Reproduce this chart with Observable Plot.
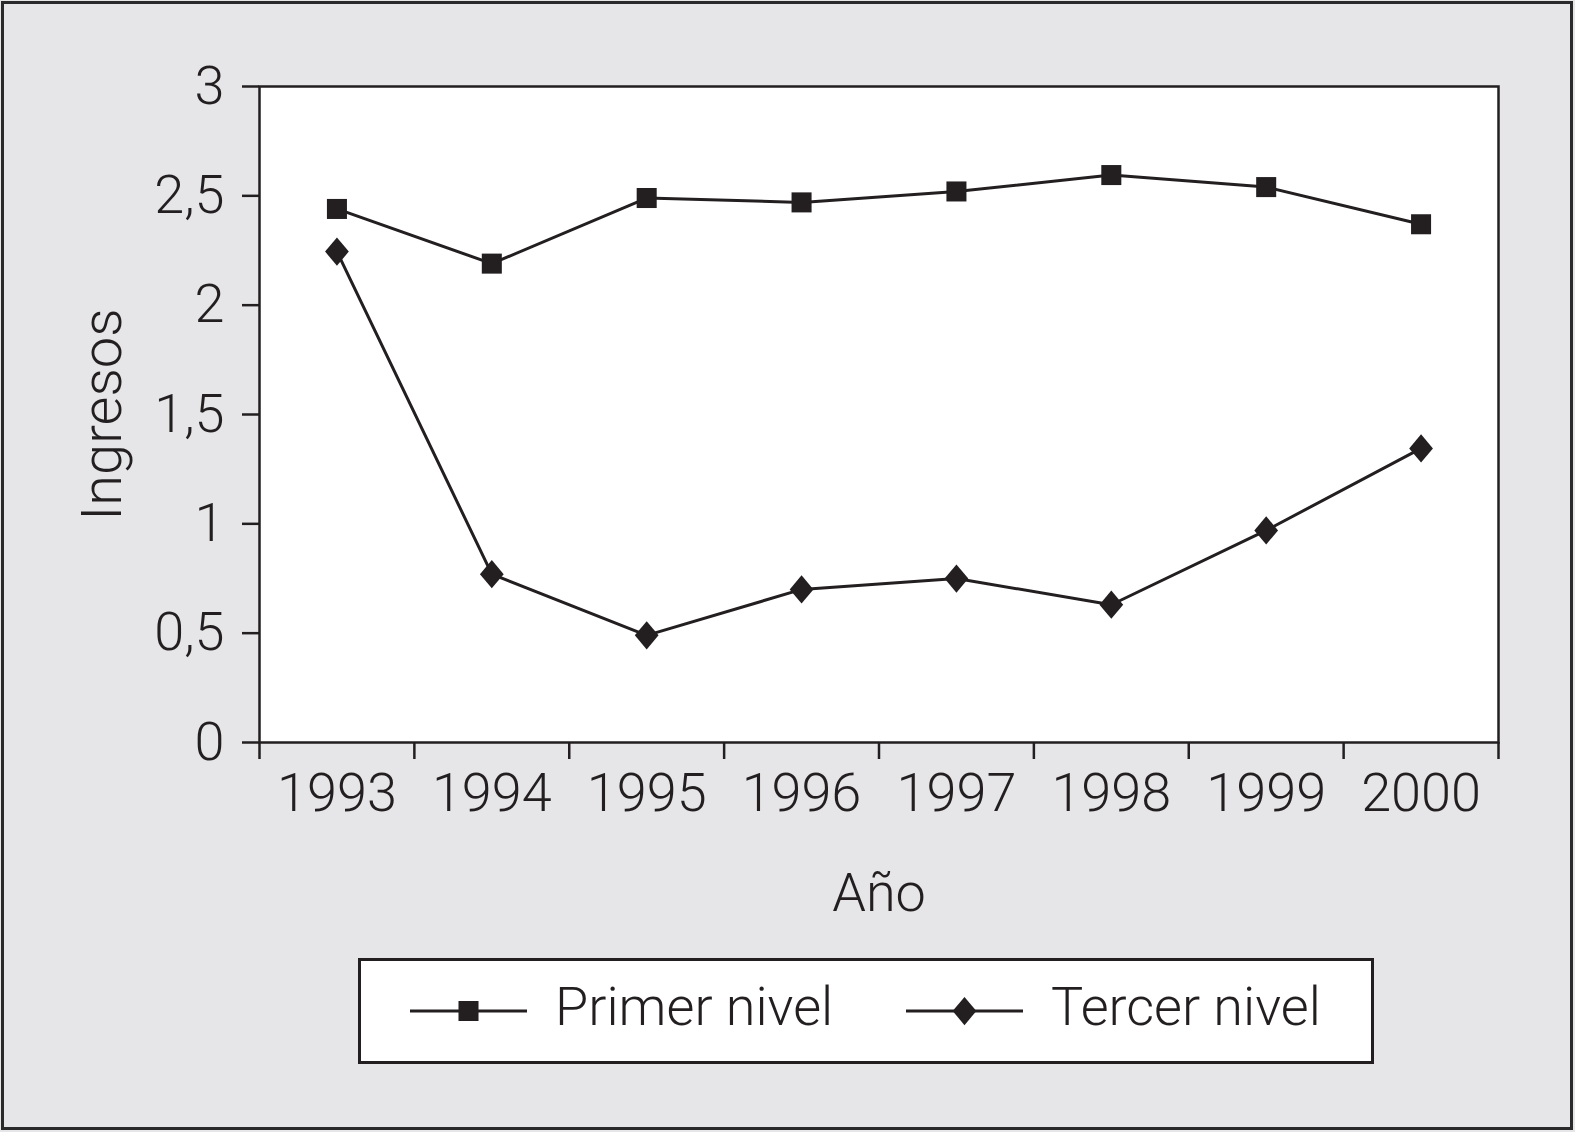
<!DOCTYPE html>
<html><head><meta charset="utf-8">
<script src="https://cdn.jsdelivr.net/npm/d3@7"></script>
<script src="https://cdn.jsdelivr.net/npm/@observablehq/plot@0.6"></script>
<style>
html,body{margin:0;padding:0;background:#e6e6e8;}
#page{position:relative;width:1575px;height:1132px;background:#e6e6e8;overflow:hidden;font-family:Roboto, "Liberation Sans", Arial, sans-serif;font-weight:300;}
#border{position:absolute;left:1px;top:1px;width:1572px;height:1129px;border:3px solid #2a2a2a;box-sizing:border-box;pointer-events:none;}
#chart{position:absolute;left:0;top:0;}
#legend{position:absolute;left:358px;top:958px;}
svg text{font-weight:300;}
</style></head>
<body><div id="page"><div id="chart"></div><div id="legend"></div><div id="border"></div></div>
<script>
const years = [1993, 1994, 1995, 1996, 1997, 1998, 1999, 2000];
const primerNivel = [2.44, 2.19, 2.49, 2.47, 2.52, 2.595, 2.54, 2.37];
const tercerNivel = [2.245, 0.77, 0.49, 0.70, 0.75, 0.63, 0.97, 1.345];
const seriesNames = ["Primer nivel", "Tercer nivel"];
const yTicks = [0, 0.5, 1, 1.5, 2, 2.5, 3];
const xLabel = "Año";
const yLabel = "Ingresos";

const dark = "#231f20";
const font = "Roboto, 'Liberation Sans', Arial, sans-serif";

// diamond symbol, slightly taller than wide
const diamond = {
  draw(context, size) {
    const r = Math.sqrt(size / Math.PI);
    const w = r * 1.05, h = r * 1.25;
    context.moveTo(0, -h); context.lineTo(w, 0); context.lineTo(0, h); context.lineTo(-w, 0); context.closePath();
  }
};

const data = [
  ...years.map((y, i) => ({year: y, value: primerNivel[i], series: seriesNames[0]})),
  ...years.map((y, i) => ({year: y, value: tercerNivel[i], series: seriesNames[1]}))
];
const boundaries = years.map(y => y - 0.5).concat([years[years.length - 1] + 0.5]);

const chart = Plot.plot({
  width: 1575,
  height: 930,
  marginLeft: 259,
  marginRight: 77,
  marginTop: 86,
  marginBottom: 188,
  style: {fontFamily: font, fontSize: "54px", fontWeight: 300, color: dark, background: "transparent", overflow: "visible"},
  x: {type: "linear", domain: [years[0] - 0.5, years[years.length - 1] + 0.5]},
  y: {domain: [0, 3]},
  marks: [
    Plot.frame({fill: "white"}),
    Plot.axisY(yTicks, {tickSize: 17, tickPadding: 18, strokeWidth: 2.5, stroke: dark, fill: dark,
      tickFormat: d => String(d).replace(".", ","), label: null}),
    Plot.axisY({label: yLabel, labelAnchor: "center", labelArrow: "none", labelOffset: 178,
      tickSize: 0, ticks: [], fontSize: 56, fill: dark}),
    Plot.axisX(boundaries, {tickSize: 17, strokeWidth: 2.5, stroke: dark, tickFormat: () => "", label: null}),
    Plot.axisX(years, {tickSize: 0, tickPadding: 30, fill: dark, tickFormat: d => String(d),
      label: xLabel, labelAnchor: "center", labelArrow: "none", labelOffset: 168}),
    Plot.frame({stroke: dark, strokeWidth: 2.5}),
    Plot.line(data, {x: "year", y: "value", z: "series", stroke: dark, strokeWidth: 3}),
    Plot.dot(data.filter(d => d.series === seriesNames[0]), {x: "year", y: "value", symbol: "square", r: 11.3, fill: dark}),
    Plot.dot(data.filter(d => d.series === seriesNames[1]), {x: "year", y: "value", symbol: diamond, r: 11.3, fill: dark})
  ]
});
document.getElementById("chart").appendChild(chart);

// Legend
const lw = 1016, lh = 106;
const svg = d3.select("#legend").append("svg").attr("width", lw).attr("height", lh)
  .style("font-family", font);
svg.append("rect").attr("x", 1.5).attr("y", 1.5).attr("width", lw - 3).attr("height", lh - 3)
  .attr("fill", "white").attr("stroke", dark).attr("stroke-width", 3);
const items = [
  {name: seriesNames[0], sym: d3.symbolSquare, x0: 52},
  {name: seriesNames[1], sym: diamond, x0: 548}
];
items.forEach(it => {
  const g = svg.append("g");
  g.append("line").attr("x1", it.x0).attr("x2", it.x0 + 117).attr("y1", 53).attr("y2", 53)
    .attr("stroke", dark).attr("stroke-width", 3);
  g.append("path").attr("d", d3.symbol(it.sym, Math.PI * 11.3 * 11.3)())
    .attr("transform", `translate(${it.x0 + 58.5},53)`).attr("fill", dark);
  g.append("text").attr("x", it.x0 + 145).attr("y", 67).attr("font-size", 54).attr("fill", dark).text(it.name);
});
</script>
</body></html>
